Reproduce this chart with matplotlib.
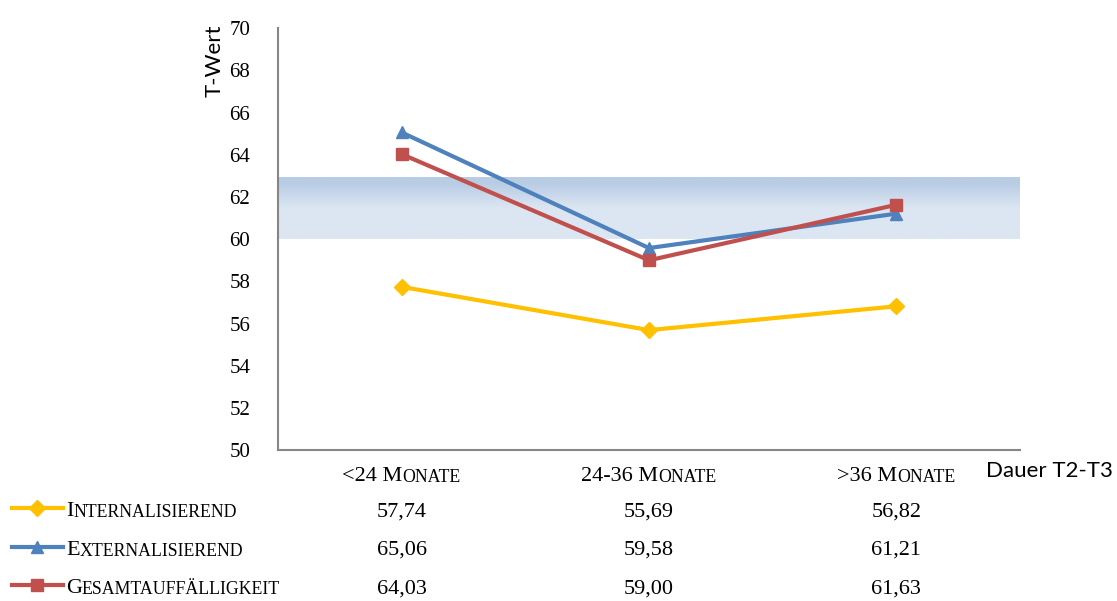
import numpy as np
import matplotlib.pyplot as plt

# Daten
kategorien = ['<24', '24-36', '>36']
internalisierend = [57.74, 55.69, 56.82]
externalisierend = [65.06, 59.58, 61.21]
gesamt = [64.03, 59.00, 61.63]
werte_text = [['57,74', '55,69', '56,82'],
              ['65,06', '59,58', '61,21'],
              ['64,03', '59,00', '61,63']]
reihen = [('I', 'NTERNALISIEREND'), ('E', 'XTERNALISIEREND'), ('G', 'ESAMTAUFFÄLLIGKEIT')]
band_unten, band_oben = 60, 62.9

farben = ['#FFC000', '#4F81BD', '#C0504D']
marker = ['D', '^', 's']
msize = [8, 9, 8]
schrift = 'Liberation Serif'
gr = 16

fig = plt.figure(figsize=(11.17, 6.01), dpi=100)
ax = fig.add_axes([0.249, 0.251, 0.664, 0.702])

x = np.arange(3) + 0.5

# Referenzbereich (Verlauf)
grad = np.linspace(0, 1, 100).reshape(-1, 1)
oben = np.array([0xb8, 0xcc, 0xe4]) / 255
unten = np.array([0xdc, 0xe6, 0xf2]) / 255
w = np.clip((grad - 0.1) * 2.5, 0, 1)
bild = oben * (1 - w[..., None]) + unten * w[..., None]
bild = bild.reshape(100, 1, 3)
ax.imshow(bild, extent=[0, 3, band_unten, band_oben], aspect='auto', zorder=0)

for daten, f, m, s in zip([internalisierend, externalisierend, gesamt], farben, marker, msize):
    ax.plot(x, daten, color=f, lw=3, marker=m, markersize=s, zorder=3)

ax.set_xlim(0, 3)
ax.set_ylim(50, 70)
ax.set_yticks(range(50, 71, 2))
ax.set_xticks(x)
ax.set_xticklabels([])
ax.tick_params(length=0, labelsize=15, pad=20)
for lab in ax.get_yticklabels():
    lab.set_fontfamily(schrift)
for sp in ['top', 'right']:
    ax.spines[sp].set_visible(False)
for sp in ['left', 'bottom']:
    ax.spines[sp].set_color('#868686')
    ax.spines[sp].set_linewidth(1.5)

ax.text(-0.086, 1.01, 'T-Wert', transform=ax.transAxes, rotation=90, ha='center', va='top',
        fontsize=16, fontfamily='Lato')
fig.text(0.996, 0.216, 'Dauer T2-T3', ha='right', va='center', fontsize=16, fontfamily='Lato')


def kapitaelchen(xp, yp, gross, klein, groesse=gr):
    t1 = fig.text(xp, yp, gross, fontsize=groesse, fontfamily=schrift, va='baseline')
    t2 = ax.annotate(klein, xy=(1, 0), xycoords=t1, fontsize=groesse * 0.8,
                     fontfamily=schrift, va='bottom', annotation_clip=False)
    return t1, t2


# Kategorienbeschriftung
fig.canvas.draw()
for xi, k in zip(x, kategorien):
    xf = fig.transFigure.inverted().transform(ax.transData.transform((xi, 50)))[0]
    t1, t2 = kapitaelchen(0, 0.2, k + ' M', 'ONATE')
    fig.canvas.draw()
    r = fig.canvas.get_renderer()
    b1 = t1.get_window_extent(r)
    b2 = t2.get_window_extent(r)
    breite = (b2.x1 - b1.x0) / fig.bbox.width
    t1.set_x(xf - breite / 2)

# Datentabelle
zeilen_y = [0.141, 0.077, 0.013]
for i in range(3):
    yf = zeilen_y[i]
    fig.add_artist(plt.Line2D([0.011, 0.056], [yf + 0.013, yf + 0.013], color=farben[i], lw=3,
                              transform=fig.transFigure))
    fig.add_artist(plt.Line2D([0.0335], [yf + 0.013], color=farben[i], marker=marker[i],
                              markersize=msize[i], transform=fig.transFigure))
    kapitaelchen(0.059, yf, reihen[i][0], reihen[i][1])
    for j, xi in enumerate(x):
        xf = fig.transFigure.inverted().transform(ax.transData.transform((xi, 50)))[0]
        fig.text(xf, yf, werte_text[i][j], ha='center', va='baseline', fontsize=gr, fontfamily=schrift)

fig.savefig('out.png', dpi=100)
